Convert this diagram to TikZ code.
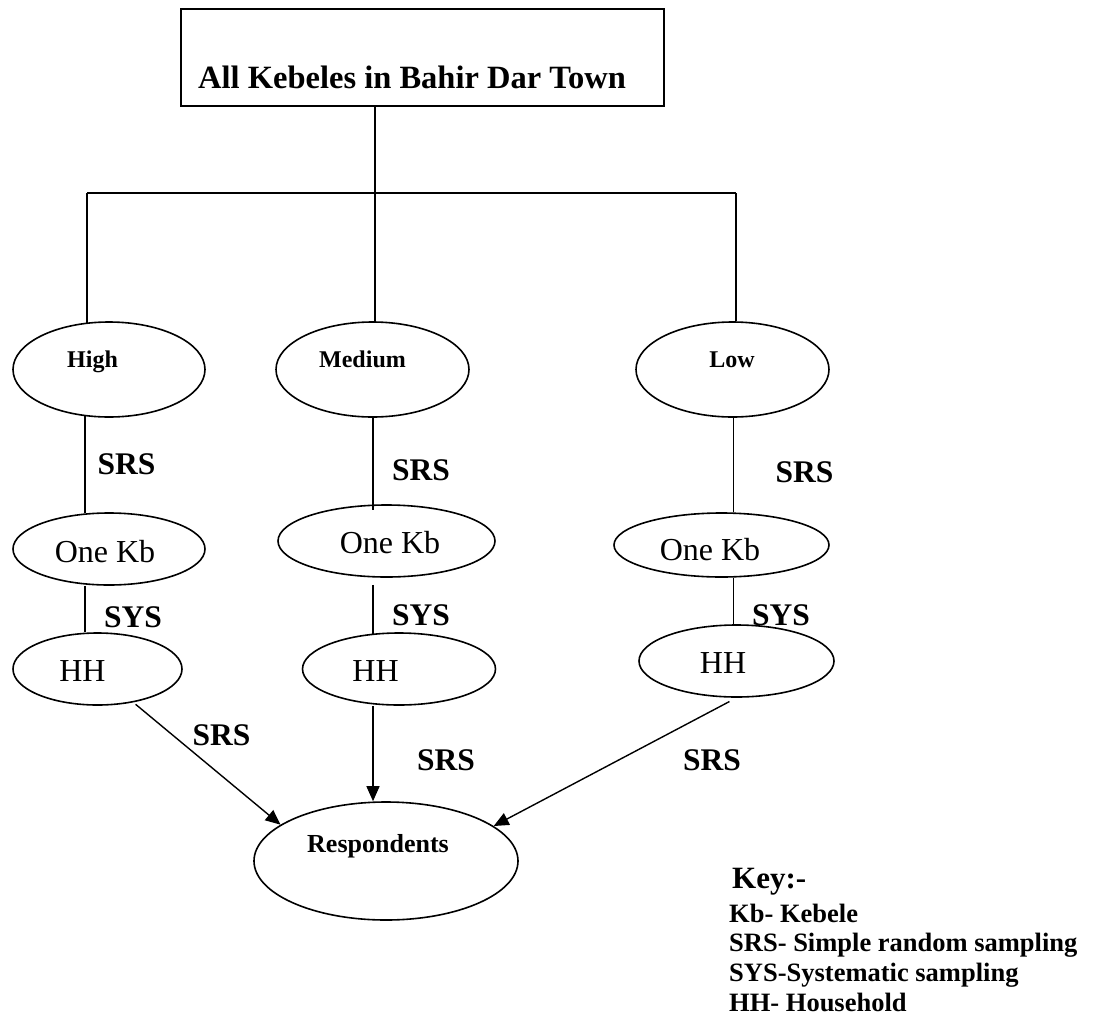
\documentclass[tikz,border=0pt]{standalone}
\usepackage{fontspec}
\setmainfont{Liberation Serif}
\usetikzlibrary{shapes.geometric,arrows.meta}
\begin{document}
\begin{tikzpicture}[x=1pt,y=-1pt,
  ell/.style={draw, ellipse, line width=1.6pt, inner sep=0pt},
  conn/.style={line width=1.6pt},
  arr/.style={line width=1.4pt, -{Triangle[length=15pt,width=13pt]}},
  lab/.style={inner sep=0pt, anchor=base, font=\fontsize{31.5}{33}\selectfont\bfseries},
  lvl/.style={inner sep=0pt, anchor=base, font=\fontsize{24}{26}\selectfont\bfseries},
  reg/.style={inner sep=0pt, anchor=base, font=\fontsize{32}{34}\selectfont},
  keyt/.style={inner sep=0pt, anchor=base west, font=\fontsize{26.5}{28}\selectfont\bfseries}]
\useasboundingbox (0,0) rectangle (1097,1017);

% top box
\node[draw, line width=2pt, minimum width=483pt, minimum height=97pt, inner sep=0pt] (top) at (422.5,57.5) {};
\node[inner sep=0pt, anchor=base, font=\fontsize{32.5}{34}\selectfont\bfseries] (title) at (412,88) {All Kebeles in Bahir Dar Town};

% level ellipses
\node[ell, minimum width=192pt, minimum height=95pt] (high) at (109,369.5) {};
\node[ell, minimum width=193pt, minimum height=95pt] (med) at (372.5,369.5) {};
\node[ell, minimum width=193pt, minimum height=95pt] (low) at (732.5,369.5) {};
\node[lvl] (thigh) at (92.5,367) {High};
\node[lvl] (tmed) at (362.5,367) {Medium};
\node[lvl] (tlow) at (732,367) {Low};

% One Kb
\node[ell, minimum width=192pt, minimum height=72pt] (kbL) at (109,549) {};
\node[ell, minimum width=217pt, minimum height=72pt] (kbM) at (386.5,541) {};
\node[ell, minimum width=215pt, minimum height=64pt] (kbR) at (721.5,545) {};
\node[reg] (tkbL) at (105,562) {One Kb};
\node[reg] (tkbM) at (390,553) {One Kb};
\node[reg] (tkbR) at (710,560) {One Kb};

% HH
\node[ell, minimum width=169pt, minimum height=72pt] (hhL) at (97.5,669) {};
\node[ell, minimum width=193pt, minimum height=72pt] (hhM) at (399,669) {};
\node[ell, minimum width=195pt, minimum height=72pt] (hhR) at (736.5,661) {};
\node[reg] (thhL) at (82.5,681) {HH};
\node[reg] (thhM) at (375.5,681) {HH};
\node[reg] (thhR) at (723,673) {HH};

% Respondents
\node[ell, minimum width=264pt, minimum height=118pt] (resp) at (386,861) {};
\node[inner sep=0pt, anchor=base, font=\fontsize{26}{28}\selectfont\bfseries] (tresp) at (378,852) {Respondents};

% tree connectors
\coordinate (xT) at (375,0);
\coordinate (jL) at (87,193);
\coordinate (jR) at (736,193);
\coordinate (xL) at (85,0);
\coordinate (xM) at (373,0);
\coordinate (xR) at (733.5,0);
\draw[conn] (top.south -| xT) -- (med.north -| xT);
\draw[conn] (jL) -- (jR);
\draw[conn, shorten >=-1.5pt] (jL) -- (high.north -| jL);
\draw[conn] (jR) -- (low.north -| jR);

\draw[conn, shorten <=-1.5pt, shorten >=-1pt] (high.south -| xL) -- (kbL.north -| xL);
\draw[conn, shorten >=-6pt] (med.south -| xM) -- (kbM.north -| xM);
\draw[conn] (low.south -| xR) -- (kbR.north -| xR);

\draw[conn] (kbL.south -| xL) -- (hhL.north -| xL);
\draw[conn, shorten <=7pt, shorten >=-1.5pt] (kbM.south -| xM) -- (hhM.north -| xM);
\draw[conn] (kbR.south -| xR) -- (hhR.north -| xR);

% arrows to respondents
\draw[arr, shorten <=3pt] (hhL.-43) -- (resp.161);
\draw[arr] (hhM.south -| xM) -- (resp.north -| xM);
\draw[arr, shorten <=8pt] (hhR.south) -- (resp.18);

% method labels
\node[lab] (srs1) at (126.5,474) {SRS};
\node[lab] (srs2) at (421,480) {SRS};
\node[lab] (srs3) at (804.5,482) {SRS};
\node[lab] (sys1) at (133,627) {SYS};
\node[lab] (sys2) at (421,625) {SYS};
\node[lab] (sys3) at (781,625) {SYS};
\node[lab] (srs4) at (221.5,745) {SRS};
\node[lab] (srs5) at (446,770) {SRS};
\node[lab] (srs6) at (712,770) {SRS};

% key
\node[inner sep=0pt, anchor=base west, font=\fontsize{31}{33}\selectfont\bfseries] (key) at (732,888) {Key:-};
\node[keyt] (k1) at (729,922) {Kb- Kebele};
\node[keyt] (k2) at (729,951.5) {SRS- Simple random sampling};
\node[keyt] (k3) at (729,981) {SYS-Systematic sampling};
\node[keyt] (k4) at (729,1011) {HH- Household};
\end{tikzpicture}
\end{document}
